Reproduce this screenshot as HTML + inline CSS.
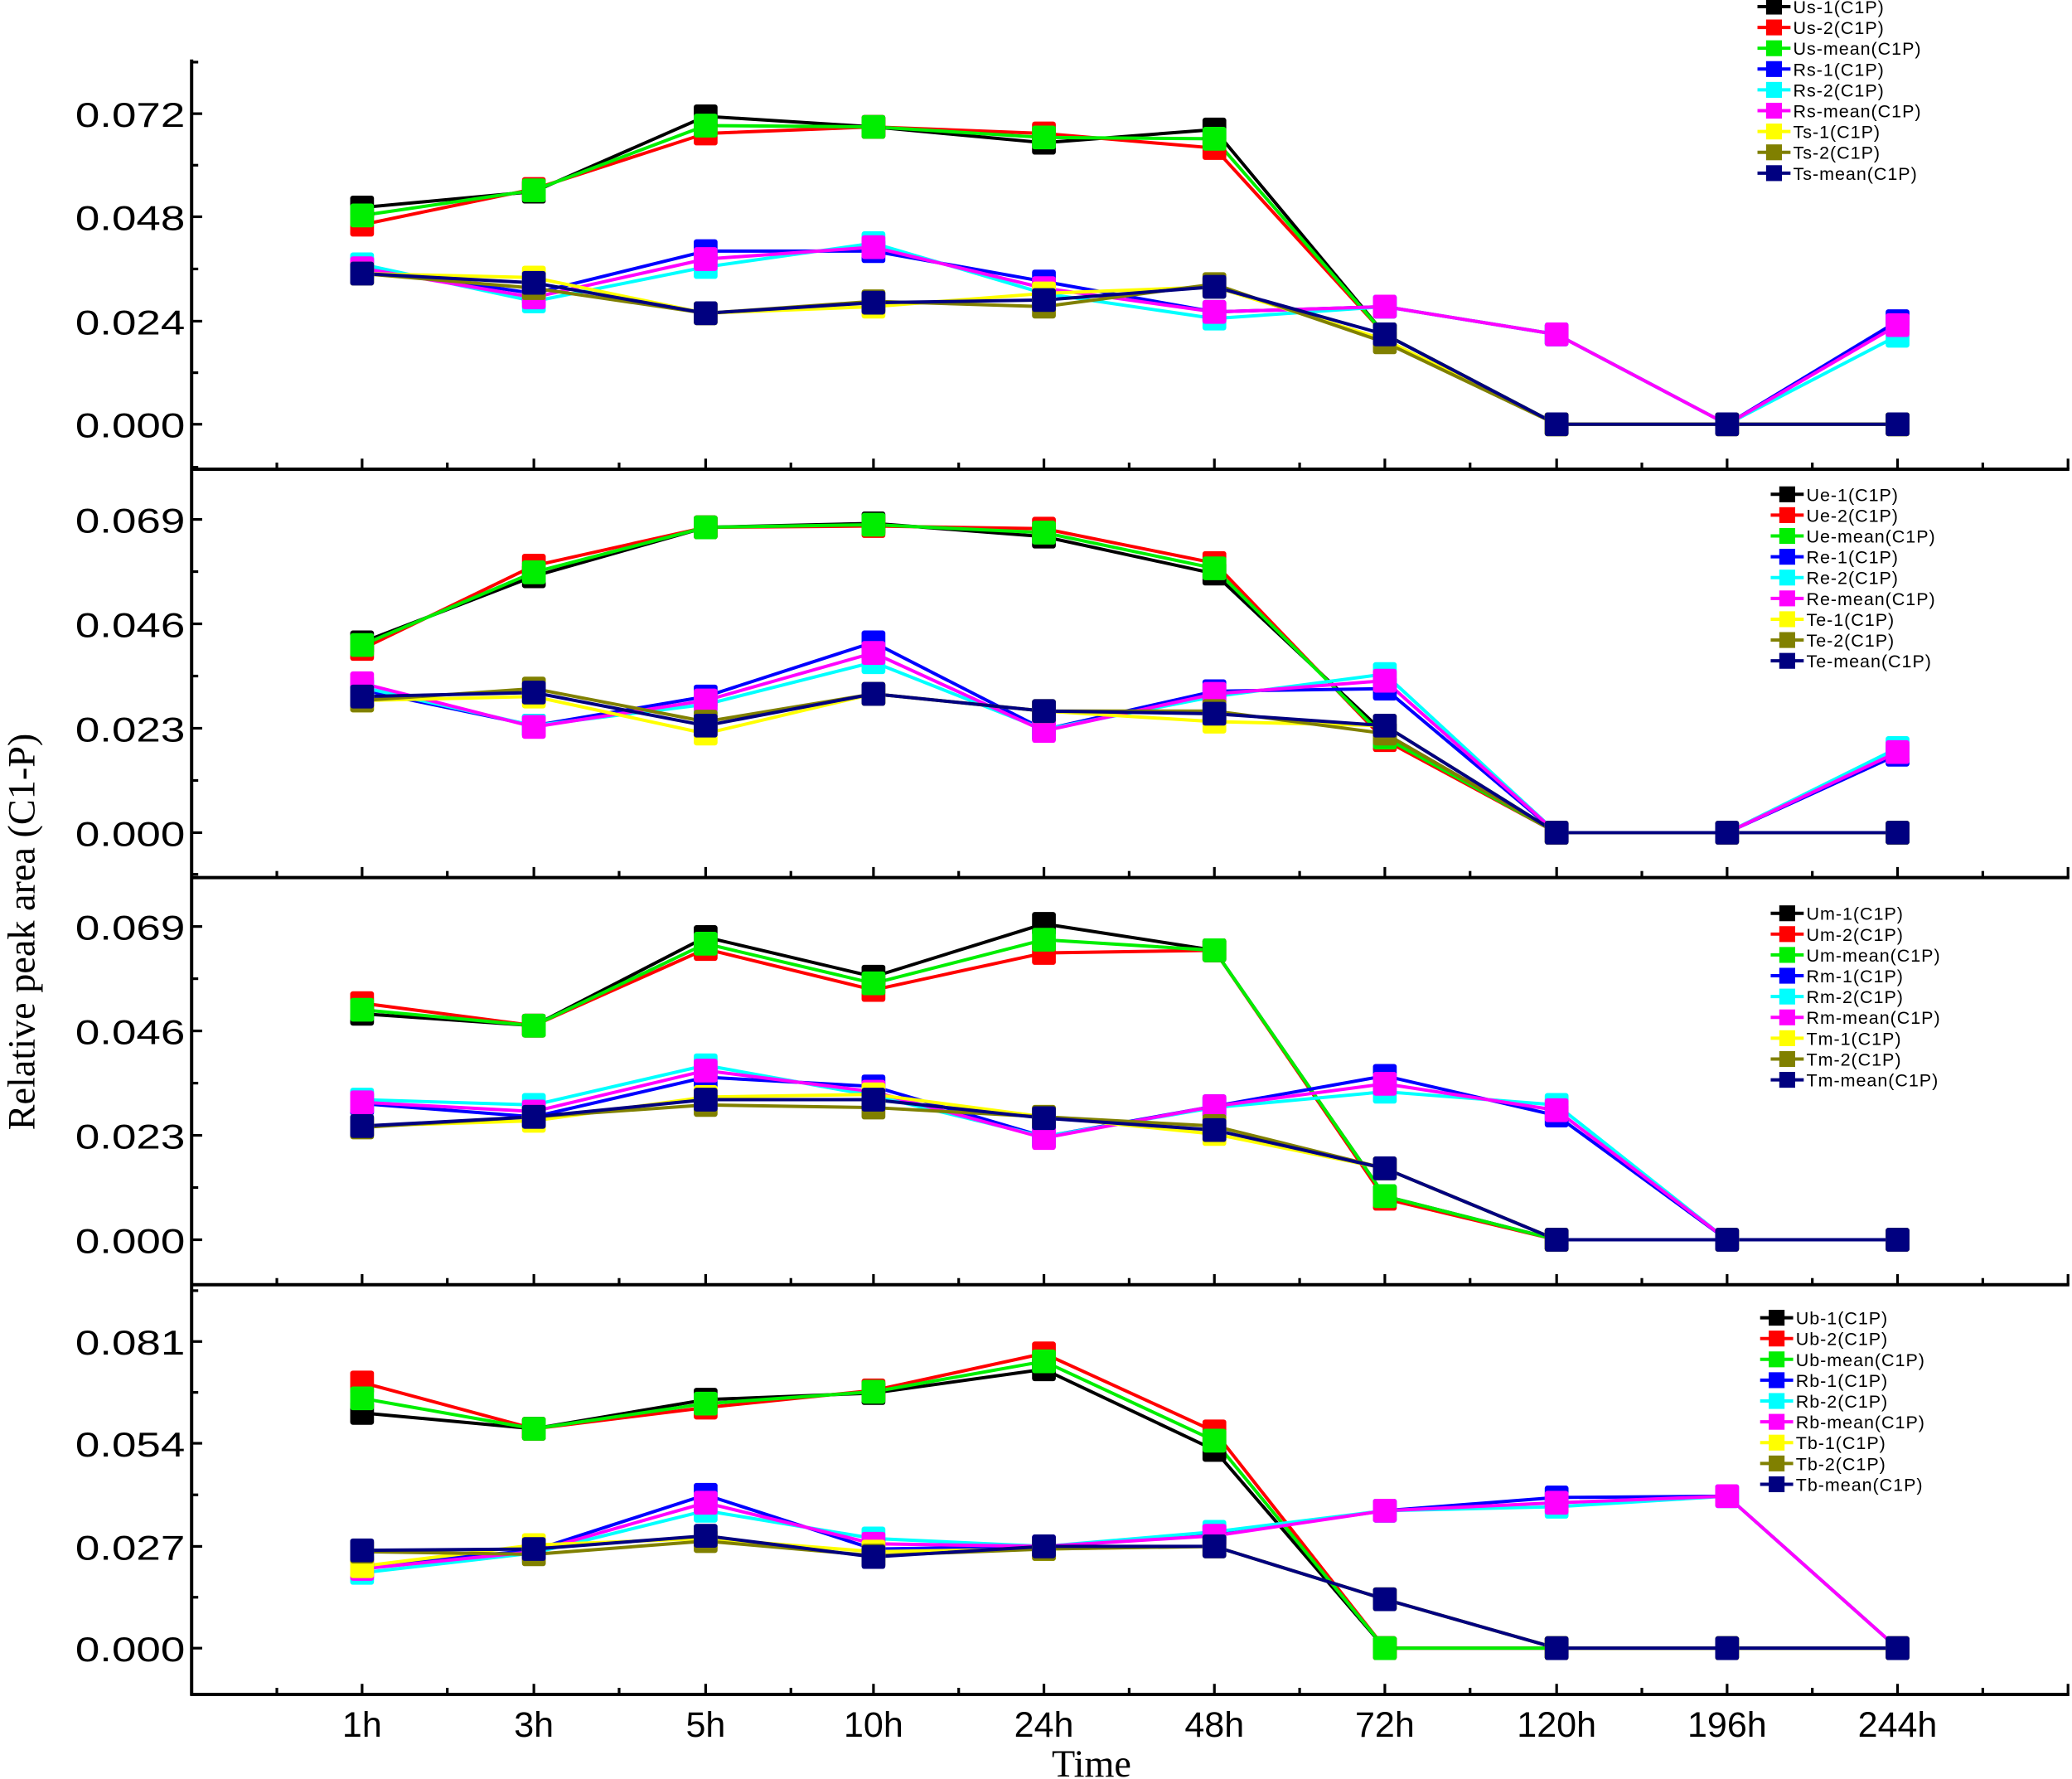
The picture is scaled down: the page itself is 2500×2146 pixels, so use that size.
<!DOCTYPE html>
<html><head><meta charset="utf-8"><style>
html,body{margin:0;padding:0;background:#fff;}
svg{display:block;}
</style></head><body>
<svg id="s" xmlns="http://www.w3.org/2000/svg" width="2500" height="2146" viewBox="0 0 1568 1346">
<rect width="1568" height="1346" fill="#fff"/>
<g id="g"></g>
</svg>
<script>
const NS="http://www.w3.org/2000/svg";
const g=document.getElementById('g');
function el(t,a,txt){const e=document.createElementNS(NS,t);for(const k in a)e.setAttribute(k,a[k]);if(txt!==undefined)e.textContent=txt;g.appendChild(e);return e;}
const X=[274,404,534,661,790,919,1048,1178,1307,1436];
const XL=["1h","3h","5h","10h","24h","48h","72h","120h","196h","244h"];
const cols=["#000000","#ff0000","#00ee00","#0000ff","#00ffff","#ff00ff","#ffff00","#808000","#000080"];
el('line',{x1:145,y1:45,x2:145,y2:1283,stroke:'#000','stroke-width':2.5});
const seps=[355,664,972,1282];
seps.forEach(y=>{
 el('line',{x1:144,y1:y,x2:1566,y2:y,stroke:'#000','stroke-width':2.5});
 for(let i=0;i<X.length;i++){
  el('line',{x1:X[i],y1:y,x2:X[i],y2:y-8,stroke:'#000','stroke-width':2});
 }
 for(let i=-1;i<X.length;i++){const xm=(i<0?X[0]-64.5:X[i]+64.5);if(xm<1566)el('line',{x1:xm,y1:y,x2:xm,y2:y-5,stroke:'#000','stroke-width':2});}
 el('line',{x1:1565,y1:y,x2:1565,y2:y-8,stroke:'#000','stroke-width':2});
});
const panels=[
 {ticks:[[86,"0.072"],[164,"0.048"],[243,"0.024"],[321,"0.000"]],leg:{x:1330,y:5,p:"s"},
  d:[
  [157,145,88,96,108,98,253,321,321,321],
  [170,143,101,96,101,112,253,321,321,321],
  [163,144,95,96,104,105,253,321,321,321],
  [203,222,190,190,213,236,232,253,321,243],
  [200,228,202,184,222,241,232,253,321,254],
  [203,225,196,187,218,236,232,253,321,246],
  [207,210,237,232,222,217,257,321,321,321],
  [207,218,237,228,232,215,259,321,321,321],
  [207,214,237,229,227,217,253,321,321,321]]},
 {ticks:[[393,"0.069"],[472,"0.046"],[551,"0.023"],[630,"0.000"]],leg:{x:1340,y:374,p:"e"},
  d:[
  [486,436,399,396,406,434,555,630,630,630],
  [491,428,399,398,400,426,560,630,630,630],
  [488,433,399,397,403,430,558,630,630,630],
  [522,549,527,486,552,523,521,630,630,571],
  [520,549,533,501,552,527,510,630,630,566],
  [517,550,530,494,553,525,515,630,630,569],
  [530,527,555,525,538,546,549,630,630,630],
  [530,521,546,525,538,538,555,630,630,630],
  [527,524,549,525,538,540,549,630,630,630]]},
 {ticks:[[701,"0.069"],[780,"0.046"],[859,"0.023"],[938,"0.000"]],leg:{x:1340,y:691,p:"m"},
  d:[
  [767,776,709,739,699,719,905,938,938,938],
  [759,776,718,749,721,719,907,938,938,938],
  [764,776,714,744,711,719,905,938,938,938],
  [835,845,815,822,860,837,814,844,938,938],
  [832,836,806,829,860,838,826,836,938,938],
  [834,841,810,826,861,837,820,840,938,938],
  [852,848,830,828,845,858,884,938,938,938],
  [853,845,836,838,845,852,884,938,938,938],
  [852,845,832,832,846,855,884,938,938,938]]},
 {ticks:[[1015,"0.081"],[1092,"0.054"],[1170,"0.027"],[1247,"0.000"]],leg:{x:1332,y:997,p:"b"},
  d:[
  [1069,1081,1059,1054,1036,1097,1247,1247,1247,1247],
  [1046,1081,1065,1052,1024,1083,1247,1247,1247,1247],
  [1058,1081,1062,1053,1030,1090,1247,1247,1247,1247],
  [1185,1173,1131,1172,1170,1161,1143,1133,1132,1247],
  [1190,1175,1143,1164,1170,1159,1143,1140,1132,1247],
  [1187,1174,1137,1168,1170,1162,1143,1137,1132,1247],
  [1185,1169,1164,1174,1172,1170,1210,1247,1247,1247],
  [1174,1176,1166,1177,1172,1170,1210,1247,1247,1247],
  [1173,1172,1162,1178,1170,1170,1210,1247,1247,1247]]}
];
const names=["U?-1(C1P)","U?-2(C1P)","U?-mean(C1P)","R?-1(C1P)","R?-2(C1P)","R?-mean(C1P)","T?-1(C1P)","T?-2(C1P)","T?-mean(C1P)"];
panels.forEach(P=>{
 P.ticks.forEach((t,i)=>{
  el('line',{x1:145,y1:t[0],x2:153,y2:t[0],stroke:'#000','stroke-width':2});
  el('text',{x:57,y:t[0]+10,textLength:83,lengthAdjust:'spacingAndGlyphs','font-family':'Liberation Sans, Arial, sans-serif','font-size':26},t[1]);
  if(i<3){const m=(t[0]+P.ticks[i+1][0])/2;el('line',{x1:145,y1:m,x2:150,y2:m,stroke:'#000','stroke-width':2});}
 });
 const m0=P.ticks[0][0]-(P.ticks[1][0]-P.ticks[0][0])/2;
 el('line',{x1:145,y1:m0,x2:150,y2:m0,stroke:'#000','stroke-width':2});
 P.d.forEach((ys,k)=>{
  el('polyline',{points:ys.map((y,i)=>X[i]+','+y).join(' '),fill:'none',stroke:cols[k],'stroke-width':2.5,'stroke-linejoin':'round'});
 });
 P.d.forEach((ys,k)=>{
  ys.forEach((y,i)=>el('rect',{x:X[i]-9,y:y-9,width:18,height:18,rx:2,fill:cols[k]}));
 });
 for(let k=0;k<9;k++){
  const y=P.leg.y+k*15.75, x=P.leg.x;
  el('line',{x1:x,y1:y,x2:x+25,y2:y,stroke:cols[k],'stroke-width':2.5});
  el('rect',{x:x+6.5,y:y-6,width:12,height:12,fill:cols[k]});
  el('text',{x:x+27,y:y+5,'font-family':'Liberation Sans, Arial, sans-serif','font-size':13.5,'letter-spacing':0.6},names[k].replace('?',P.leg.p));
 }
});
X.forEach((x,i)=>el('text',{x:x,y:1314,'text-anchor':'middle','font-family':'Liberation Sans, Arial, sans-serif','font-size':27},XL[i]));
el('text',{x:826,y:1344,'text-anchor':'middle','font-family':'Liberation Serif, serif','font-size':29},'Time');
el('text',{x:0,y:0,transform:'translate(26,705) rotate(-90)','text-anchor':'middle','font-family':'Liberation Serif, serif','font-size':29},'Relative peak area (C1-P)');
</script>
</body></html>
